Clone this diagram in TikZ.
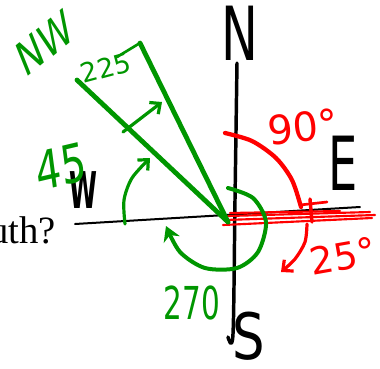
\documentclass[tikz,border=0pt]{standalone}
\usepackage{fontspec}
\usetikzlibrary{arrows.meta}
\newfontfamily\hand{DejaVu Sans}
\newfontfamily\handbold{DejaVu Sans Bold}
\newfontfamily\slidefont{Liberation Serif}
\definecolor{pengreen}{RGB}{0,150,0}
\definecolor{penred}{RGB}{255,0,0}
\tikzset{
  ink/.style={line cap=round, line join=round},
  blackpen/.style={ink, draw=black, line width=2.6pt},
  greenpen/.style={ink, draw=pengreen, line width=3.6pt},
  thingreen/.style={ink, draw=pengreen, line width=2pt},
  redpen/.style={ink, draw=penred, line width=3.2pt},
  thinred/.style={ink, draw=penred, line width=1.6pt},
  barb/.style={-{Straight Barb[length=6pt,width=11pt]}},
  lbl/.style={inner sep=0pt},
}
\begin{document}
\begin{tikzpicture}[x=0.75pt, y=-0.75pt]
  % hand-drawn compass with bearings
  \clip (0,0) rectangle (380,369);
  \coordinate (O) at (228,222);
  \node[lbl, anchor=base east, font=\slidefont\fontsize{29}{32}\selectfont] (quest) at (56,243) {uth?};
  \draw[blackpen, line width=1.5pt] (75,224) -- (360,207);
  \draw[blackpen] plot[smooth] coordinates {(237,63) (235,200) (233,334) (228,337)};
  \node[lbl, font=\hand\fontsize{56}{56}\selectfont, xscale=0.66] (north) at (240,33) {N};
  \node[lbl, font=\hand\fontsize{56}{56}\selectfont, xscale=0.62] (east) at (343,163) {E};
  \node[lbl, font=\hand\fontsize{48}{48}\selectfont, xscale=0.8] (south) at (249,336) {S};
  \node[lbl, font=\handbold\fontsize{38}{38}\selectfont, xscale=0.5] (west) at (83,190) {W};
  % red: east is 90, sweep on to 25
  \draw[redpen] plot[smooth] coordinates {(225,133) (252,141) (276,158) (292,180) (301,207)};
  \draw[thinred] (223,225) -- (372,218);
  \draw[thinred] (225,220) -- (375,215);
  \draw[thinred] (228,216) -- (370,212);
  \draw[thinred] (230,213) -- (340,211);
  \draw[redpen, line width=2.6pt] (310,199) -- (312,222);
  \draw[thinred, line width=2pt] (300,205) -- (327,202);
  \draw[redpen, line width=2.4pt, barb] plot[smooth] coordinates {(307,224) (305,242) (295,259) (281,272)};
  \node[lbl, text=penred, font=\hand\fontsize{30}{30}\selectfont, rotate=6] (ninety) at (303,127) {90°};
  \node[lbl, text=penred, font=\hand\fontsize{28}{28}\selectfont, rotate=10] (twentyfive) at (343,256) {25°};
  % green: the NW wedge and its angles
  \draw[greenpen] (77,80) -- (O);
  \draw[greenpen] (140,43) -- (O);
  \draw[thingreen] (140,43) -- (117,57);
  \draw[thingreen, line width=2.4pt, barb] (123,132) -- (162,102);
  \draw[thingreen, line width=2.4pt, barb] plot[smooth] coordinates {(125,224) (124,200) (132,178) (150,158)};
  \draw[greenpen, line width=3pt, -{Stealth[length=11pt,width=13pt]}] plot[smooth] coordinates {(228,188) (253,198) (266,222) (258,252) (237,268) (205,268) (180,252) (166,226)};
  \node[lbl, text=pengreen, font=\hand\fontsize{36}{36}\selectfont, xscale=0.7, rotate=30] (nw) at (45,43) {NW};
  \node[lbl, text=pengreen, font=\hand\fontsize{20}{20}\selectfont, rotate=15] (twotwofive) at (106,68) {225};
  \node[lbl, text=pengreen, font=\hand\fontsize{40}{40}\selectfont, xscale=0.75, rotate=10] (fortyfive) at (61,167) {45};
  \node[lbl, text=pengreen, font=\hand\fontsize{34}{34}\selectfont, xscale=0.65] (twoseventy) at (192,303) {270};
\end{tikzpicture}
\end{document}
